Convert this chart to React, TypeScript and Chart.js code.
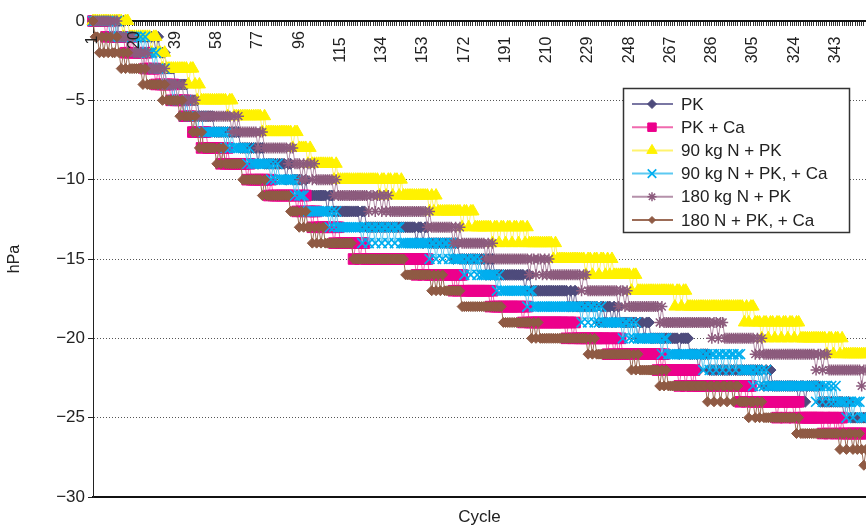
import React, { useEffect, useRef } from 'react';
import { Chart, registerables } from 'chart.js';
import { drawPoint } from 'chart.js/helpers';

Chart.register(...registerables);

// ---------- DATA ----------
const CYCLE_COUNT = 357;
const cycles: string[] = Array.from({ length: CYCLE_COUNT }, (_, i) => String(i + 1));
const shownCycleLabels = [1, 20, 39, 58, 77, 96, 115, 134, 153, 172, 191, 210, 229, 248, 267, 286, 305, 324, 343];

const seriesNames = ['PK', 'PK + Ca', '90 kg N + PK', '90 kg N + PK, + Ca', '180 kg N + PK', '180 N + PK, + Ca'];

// Cycle at which each series settles one hPa lower (0 → −1 → −2 …)
const pkSteps = [16, 32, 35, 39, 45, 50, 57, 69, 80, 93, 100, 112, 127, 156, 170, 186, 203, 224, 244, 258, 276, 285, 314, 336, 350];
// Single cycles where a reading dips 1 hPa below the current level
const pkDips = [12, 27, 30, 77, 90, 98, 109, 124, 150, 153, 167, 182, 184, 200, 220, 222, 234, 237, 240, 242, 252, 255, 271, 280, 310, 312, 326, 329, 347];

const pkCaSteps = [10, 20, 27, 32, 39, 45, 47, 54, 64, 75, 85, 100, 105, 115, 127, 156, 172, 187, 202, 224, 245, 265, 279, 305, 327, 347];
const pkCaDips = [7, 16, 18, 25, 30, 37, 43, 51, 60, 62, 72, 74, 82, 84, 95, 97, 102, 112, 121, 124, 150, 153, 167, 169, 184, 186, 199, 219, 222, 238, 241, 243, 261, 263, 271, 274, 277, 299, 302, 316, 320, 324, 337, 340, 343, 345];

const n90Steps = [18, 31, 35, 48, 51, 66, 81, 96, 102, 114, 144, 160, 177, 202, 215, 241, 252, 275, 306, 327, 347];
const n90Dips = [15, 28, 33, 45, 49, 63, 79, 93, 100, 112, 133, 136, 139, 142, 156, 158, 171, 174, 185, 188, 191, 194, 197, 200, 213, 228, 231, 234, 237, 239, 249, 269, 272, 301, 303, 309, 312, 315, 318, 321, 324, 339, 342, 345];

const n90CaSteps = [13, 26, 31, 35, 40, 45, 52, 66, 74, 87, 96, 99, 114, 143, 167, 180, 189, 204, 236, 252, 266, 300, 312, 344, 355];
const n90CaDips = [9, 11, 22, 24, 29, 33, 38, 43, 49, 62, 64, 72, 83, 85, 94, 110, 112, 125, 128, 131, 134, 137, 140, 156, 159, 162, 165, 172, 175, 178, 187, 201, 226, 229, 232, 234, 245, 248, 250, 263, 282, 285, 288, 291, 294, 297, 305, 308, 310, 334, 337, 340, 342, 348, 351];

const n180Steps = [13, 20, 27, 35, 43, 49, 69, 80, 94, 104, 114, 138, 157, 171, 186, 212, 229, 248, 264, 292, 310, 340];
const n180Dips = [10, 17, 24, 33, 40, 46, 65, 67, 77, 91, 97, 99, 102, 112, 128, 131, 134, 136, 155, 167, 169, 182, 184, 202, 205, 208, 210, 226, 243, 246, 262, 286, 289, 306, 308, 334, 337, 355];

const n180CaSteps = [3, 13, 18, 27, 35, 43, 49, 53, 62, 70, 82, 92, 100, 108, 121, 145, 163, 171, 190, 207, 233, 253, 266, 299, 310, 327, 355];
const n180CaDips = [2, 4, 6, 8, 10, 11, 14, 16, 24, 26, 33, 41, 47, 50, 52, 58, 60, 79, 81, 96, 98, 102, 104, 106, 157, 159, 161, 203, 205, 229, 231, 249, 251, 262, 264, 284, 287, 290, 293, 296, 303, 306, 308, 325, 345, 348, 351, 353, 356];

function decode(steps: number[], dips: number[]): number[] {
  const out: number[] = [];
  for (let c = 1; c <= CYCLE_COUNT; c++) {
    let v = 0;
    for (const s of steps) if (c >= s) v -= 1;
    if (dips.includes(c)) v -= 1;
    out.push(v);
  }
  return out;
}

const seriesValues = [
  decode(pkSteps, pkDips),
  decode(pkCaSteps, pkCaDips),
  decode(n90Steps, n90Dips),
  decode(n90CaSteps, n90CaDips),
  decode(n180Steps, n180Dips),
  decode(n180CaSteps, n180CaDips),
];

// ---------- STYLE ----------
const FONT = '"Liberation Sans", Arial, Helvetica, sans-serif';
const styles = [
  { point: '#4E4B7C', line: '#7A77A3', shape: 'rectRot', r: 5.5, lr: 4.5, bw: 1, order: 5 },
  { point: '#EC008C', line: '#F06AAE', shape: 'rect', r: 7.5, lr: 6, bw: 1, order: 4 },
  { point: '#FFF200', line: '#FFF36E', shape: 'triangle', r: 7, lr: 6, bw: 1, order: 3 },
  { point: '#00AEEF', line: '#5CC9F2', shape: 'crossRot', r: 7, lr: 6, bw: 1.7, order: 2 },
  { point: '#8C5B7D', line: '#B591AA', shape: 'star', r: 5.5, lr: 4.5, bw: 1.5, order: 1 },
  { point: '#8F5A44', line: '#9C6C57', shape: 'rectRot', r: 5, lr: 3.5, bw: 1, order: 0 },
];

const xLabelPlugin = {
  id: 'xLabelsInside',
  afterDatasetsDraw(chart: any) {
    const xs = chart.scales.x;
    const ctx = chart.ctx;
    ctx.save();
    ctx.font = '16px ' + FONT;
    ctx.fillStyle = '#222';
    ctx.textBaseline = 'middle';
    ctx.textAlign = 'center';
    for (const c of shownCycleLabels) {
      const px = xs.getPixelForValue(c - 1);
      const t = String(c);
      ctx.save();
      ctx.translate(px, t.length >= 3 ? 50 : 40);
      ctx.rotate(-Math.PI / 2);
      ctx.fillText(t, 0, 0);
      ctx.restore();
    }
    ctx.restore();
  },
};

const legendPlugin = {
  id: 'boxLegend',
  afterDraw(chart: any) {
    const ctx = chart.ctx;
    const L = 623, T = 88, W = 227, H = 145;
    ctx.save();
    ctx.fillStyle = '#fff';
    ctx.fillRect(L, T, W, H);
    ctx.strokeStyle = '#333';
    ctx.lineWidth = 1.5;
    ctx.strokeRect(L + 0.5, T + 0.5, W - 1, H - 1);
    ctx.font = '17px ' + FONT;
    ctx.textBaseline = 'middle';
    ctx.textAlign = 'left';
    seriesNames.forEach((name, i) => {
      const st = styles[i];
      const y = 104 + i * 23.2;
      ctx.strokeStyle = st.line;
      ctx.lineWidth = 2;
      ctx.beginPath();
      ctx.moveTo(632, y);
      ctx.lineTo(673, y);
      ctx.stroke();
      ctx.fillStyle = st.point;
      ctx.strokeStyle = st.point;
      ctx.lineWidth = st.bw;
      drawPoint(ctx, { pointStyle: st.shape, radius: st.lr, rotation: 0, borderWidth: st.bw } as any, 652, y);
      ctx.fillStyle = '#222';
      ctx.fillText(name, 681, y + 1);
    });
    ctx.restore();
  },
};

export default function App() {
  const ref = useRef<HTMLCanvasElement>(null);
  useEffect(() => {
    if (!ref.current) return;
    Chart.defaults.font.family = FONT;
    const chart = new Chart(ref.current, {
      type: 'line',
      data: {
        labels: cycles,
        datasets: seriesNames.map((name, i) => ({
          label: name,
          data: seriesValues[i],
          order: styles[i].order,
          borderColor: styles[i].line,
          borderWidth: 1,
          backgroundColor: styles[i].point,
          pointStyle: styles[i].shape as any,
          pointRadius: styles[i].r,
          pointBackgroundColor: styles[i].point,
          pointBorderColor: styles[i].point,
          pointBorderWidth: styles[i].bw,
          tension: 0,
          clip: false as any,
          xAxisID: 'x',
          yAxisID: 'y',
        })),
      },
      options: {
        responsive: false,
        animation: false,
        layout: { padding: 0, autoPadding: false } as any,
        plugins: { legend: { display: false }, tooltip: { enabled: false } },
        events: [],
        scales: {
          x: {
            type: 'category',
            position: 'top',
            offset: false,
            ticks: { display: false, autoSkip: false },
            grid: { display: true, drawOnChartArea: false, drawTicks: true, tickLength: -5, color: '#333', tickColor: '#333', lineWidth: 1 },
            border: { display: true, color: '#111', width: 2 },
            afterFit: (s: any) => { s.height = 21; },
          },
          x2: {
            type: 'category',
            position: 'bottom',
            offset: false,
            ticks: { display: false },
            grid: { display: false },
            border: { display: true, color: '#111', width: 2 },
            title: { display: true, text: 'Cycle', color: '#222', font: { size: 17, family: FONT }, padding: { top: 10, bottom: 0 } },
            afterFit: (s: any) => { s.height = 31; },
          },
          y: {
            min: -30,
            max: 0,
            ticks: {
              stepSize: 5,
              color: '#222',
              font: { size: 17, family: FONT },
              padding: 3,
              callback: (v: any) => (Number(v) < 0 ? '\u2212' + Math.abs(Number(v)) : String(v)),
            },
            grid: {
              color: (c: any) => (c.tick && (c.tick.value === 0 || c.tick.value === -30) ? 'rgba(0,0,0,0)' : '#555'),
              lineWidth: 1,
              tickLength: 5,
              tickColor: '#222',
              tickBorderDash: [],
            } as any,
            border: { display: true, color: '#222', width: 1, dash: [1, 2] },
            title: { display: true, text: 'hPa', color: '#222', font: { size: 16, family: FONT }, padding: { top: 5, bottom: 0 } },
            afterFit: (s: any) => { s.width = 93; },
          },
        },
      },
      plugins: [xLabelPlugin, legendPlugin],
    } as any);
    return () => chart.destroy();
  }, []);
  return (
    <div style={{ position: 'absolute', left: 0, top: 0, width: 866, height: 528, background: '#fff' }}>
      <canvas ref={ref} width={866} height={528} style={{ display: 'block' }} />
    </div>
  );
}
